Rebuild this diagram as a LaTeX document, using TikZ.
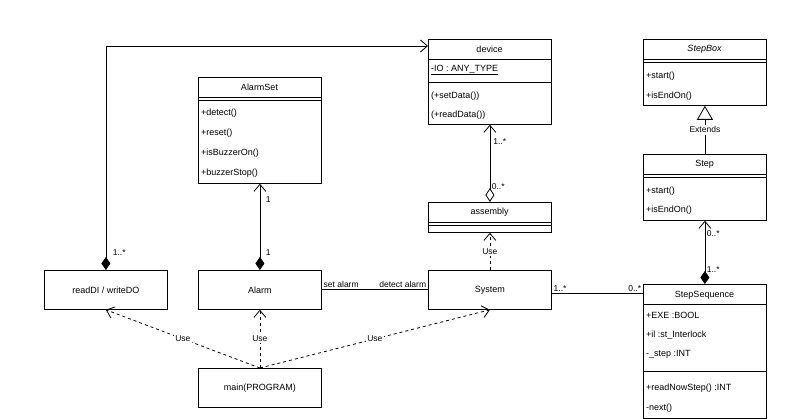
\documentclass[tikz,border=0pt]{standalone}
\usepackage{fontspec}
\setmainfont{Liberation Sans}
\usetikzlibrary{arrows.meta}

\begin{document}
\begin{tikzpicture}[x=1pt, y=-1pt,
    cls/.style={draw, line width=0.8pt, anchor=north west, minimum width=123pt, inner sep=0pt, font=\fontsize{9}{11}\selectfont},
    ttl/.style={inner sep=0pt, font=\fontsize{9}{11}\selectfont},
    member/.style={anchor=west, inner sep=0pt, font=\fontsize{9}{11}\selectfont},
    lbl/.style={inner sep=1.5pt, font=\fontsize{8.5}{10}\selectfont},
    sep/.style={line width=0.8pt},
    comp/.style={line width=0.8pt, arrows={Diamond[length=13pt,width=9pt]-Straight Barb[length=7pt,width=12pt]}},
    aggr/.style={line width=0.8pt, arrows={Diamond[open,length=14pt,width=9pt]-Straight Barb[length=7pt,width=12pt]}},
    use/.style={line width=0.8pt, dash pattern=on 3pt off 3pt, arrows={-Straight Barb[length=7pt,width=12pt]}},
    ext/.style={line width=0.8pt, arrows={-Triangle[open,length=14pt,width=16pt]}}
]
    \useasboundingbox (0,0) rectangle (800,419);

    % device
    \node[cls, minimum height=85pt] (device) at (428,39) {};
    \node[ttl] (devicename) at (489.5,49) {device};
    \draw[sep] (428,59) -- (551,59);
    \draw[sep] (428,82) -- (551,82);
    \node[member] (deviceio) at (431,70) {\underline{-IO : ANY\_TYPE}};
    \node[member] (deviceset) at (431,96) {(+setData())};
    \node[member] (deviceread) at (431,115) {(+readData())};

    % AlarmSet
    \node[cls, minimum height=106pt] (alarmset) at (198,77) {};
    \node[ttl] (alarmsetname) at (259.5,87) {AlarmSet};
    \draw[sep] (198,97) -- (321,97);
    \draw[sep] (198,100) -- (321,100);
    \foreach \y/\t [count=\i] in {113/{+detect()},133/{+reset()},153/{+isBuzzerOn()},173/{+buzzerStop()}} {
        \node[member] (alarmset\i) at (201,\y) {\t};
    }

    % StepBox
    \node[cls, minimum height=66pt] (stepbox) at (643,39) {};
    \node[ttl] (stepboxname) at (704.5,49) {\itshape StepBox};
    \draw[sep] (643,59) -- (766,59);
    \draw[sep] (643,62) -- (766,62);
    \node[member] (stepbox1) at (646,76) {+start()};
    \node[member] (stepbox2) at (646,96) {+isEndOn()};

    % Step
    \node[cls, minimum height=66pt] (step) at (643,154) {};
    \node[ttl] (stepname) at (704.5,164) {Step};
    \draw[sep] (643,174) -- (766,174);
    \draw[sep] (643,177) -- (766,177);
    \node[member] (step1) at (646,191) {+start()};
    \node[member] (step2) at (646,210) {+isEndOn()};

    % assembly
    \node[cls, minimum height=30pt] (assembly) at (428,202) {};
    \node[ttl] (assemblyname) at (489.5,212) {assembly};
    \draw[sep] (428,222) -- (551,222);
    \draw[sep] (428,225) -- (551,225);

    % StepSequence
    \node[cls, minimum height=134pt] (stepseq) at (643,284) {};
    \node[ttl] (stepseqname) at (704.5,295) {StepSequence};
    \draw[sep] (643,304) -- (766,304);
    \draw[sep] (643,371) -- (766,371);
    \foreach \y/\t [count=\i] in {315/{+EXE :BOOL},335/{+il :st\_Interlock},354/{-\_step :INT},388/{+readNowStep() :INT},408/{-next()}} {
        \node[member] (stepseq\i) at (646,\y) {\t};
    }

    % plain boxes
    \node[cls, minimum height=39pt] (rw) at (44,270) {readDI / writeDO};
    \node[cls, minimum height=39pt] (alarm) at (198,270) {Alarm};
    \node[cls, minimum height=39pt] (system) at (428,270) {System};
    \node[cls, minimum height=39pt] (main) at (198,368) {main(PROGRAM)};

    % associations
    \coordinate (devin) at (428,46);
    \draw[comp] (rw.north) |- (devin) node[lbl, pos=0.04, right, xshift=5pt] {1..*};
    \draw[comp] (alarm.north) -- (alarmset.south)
        node[lbl, pos=0.2, right, xshift=4pt] {1}
        node[lbl, pos=0.82, right, xshift=4pt] {1};
    \draw[aggr] (assembly.north) -- (device.south)
        node[lbl, pos=0.2, right] {0..*}
        node[lbl, pos=0.78, right, xshift=1.5pt] {1..*};
    \draw[comp] (stepseq.north) -- (step.south)
        node[lbl, pos=0.23, right] {1..*}
        node[lbl, pos=0.8, right] {0..*};
    \draw[ext] (step.north) -- (stepbox.south) node[lbl, midway, fill=white] {Extends};
    \draw[sep] (alarm.east) -- (system.west)
        node[lbl, pos=0, above right] {set alarm}
        node[lbl, pos=1, above left] {detect alarm};
    \coordinate (sysout) at ([yshift=-3.5pt]system.east);
    \draw[sep] (sysout) -- (sysout -| stepseq.west)
        node[lbl, pos=0, above right] {1..*}
        node[lbl, pos=1, above left] {0..*};

    % dependencies
    \draw[use] (main.north) -- (rw.south) node[lbl, midway, fill=white] {Use};
    \draw[use] (main.north) -- (alarm.south) node[lbl, midway, fill=white] {Use};
    \draw[use] (main.north) -- (system.south) node[lbl, midway, fill=white] {Use};
    \draw[use] (system.north) -- (assembly.south) node[lbl, midway, fill=white] {Use};
\end{tikzpicture}
\end{document}
